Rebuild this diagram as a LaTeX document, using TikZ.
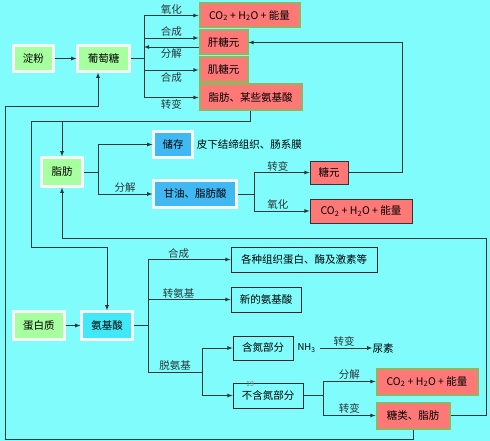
\documentclass[tikz,border=0pt]{standalone}
\usepackage{fontspec}
\setmainfont{Noto Sans CJK SC}
\usetikzlibrary{arrows,positioning,calc,shadows}

\definecolor{bgcyan}{RGB}{128,252,252}
\definecolor{redfill}{RGB}{255,120,120}
\definecolor{olivebd}{RGB}{153,178,96}
\definecolor{greenfill}{RGB}{168,255,160}
\definecolor{bluefill}{RGB}{64,184,244}
\definecolor{aminofill}{RGB}{64,232,248}
\definecolor{linecol}{RGB}{40,56,56}

\newcommand{\energytext}{{\fontsize{10.5}{12}\selectfont CO\textsubscript{2} + H\textsubscript{2}O + 能量}}

\begin{document}
\begin{tikzpicture}[x=1pt, y=-1pt,
        every node/.style={font=\fontsize{10.5}{12}\selectfont, inner sep=0pt},
        basebox/.style={minimum height=26pt, align=center},
        greenbox/.style={basebox, fill=greenfill, draw=white!93!gray, line width=2.2pt, drop shadow={shadow xshift=1.3pt, shadow yshift=-1.3pt, fill=gray!60}},
        bluebox/.style={greenbox, fill=bluefill},
        aminobox/.style={greenbox, fill=aminofill},
        redbox/.style={basebox, fill=redfill, draw=olivebd, line width=2pt},
        redline/.style={basebox, fill=redfill, draw=black!80, line width=0.8pt},
        plainbox/.style={basebox, draw=black!85, line width=0.8pt},
        link/.style={draw, linecol, line width=0.8pt},
        arrow/.style={link, ->, >=latex}
    ]
        % Background
        \useasboundingbox (0,0) rectangle (490,441);
        \fill[bgcyan] (0,0) rectangle (490,441);

        % Sugar part
        \node[greenbox, minimum width=40pt] (dianfen) at (33.5,58.5) {淀粉};
        \node[greenbox, minimum width=52pt] (ptt) at (103.5,58.5) {葡萄糖};
        \node[redbox, minimum width=100pt, minimum height=24pt] (co2a) at (249.5,15.5) {\energytext};
        \node[redbox, minimum width=48pt, minimum height=24pt] (gty) at (223.5,42.5) {肝糖元};
        \node[redbox, minimum width=48pt, minimum height=25pt] (jty) at (223.5,70) {肌糖元};
        \node[redbox, minimum width=102pt, minimum height=26pt] (zfa) at (250.5,97.5) {脂肪、某些氨基酸};

        \coordinate (gbus) at (144,58.5);
        \coordinate (gtop) at (144,15.5);
        \coordinate (gbot) at (144,97.5);
        \draw[arrow] (dianfen) -- (ptt);
        \draw[link] (ptt.east) -- (gbus);
        \draw[link] (gtop) -- (gbot);
        \draw[arrow] (gtop) -- (co2a.west) node[midway, above=1pt] {氧化};
        \draw[arrow] (gtop |- 0,38) -- (gty.west |- 0,38) node[midway, above=1pt] {合成};
        \draw[arrow] (gty.west |- 0,47) -- (gtop |- 0,47) node[midway, below=1pt] {分解};
        \draw[arrow] (gtop |- jty.west) -- (jty.west) node[midway, below=2pt] {合成};
        \draw[arrow] (gbot) -- (zfa.west) node[midway, below=2pt] {转变};

        % Fat part
        \node[greenbox, minimum width=41pt, minimum height=29pt] (zf) at (62,172) {脂肪};
        \node[bluebox, minimum width=39pt] (cc) at (173,144.5) {储存};
        \node[right=3pt of cc] (note) {皮下结缔组织、肠系膜};
        \node[bluebox, minimum width=83pt, minimum height=27pt] (gy) at (195,194) {甘油、脂肪酸};
        \node[redline, minimum width=38pt, minimum height=23pt] (ty) at (329,172.5) {糖元};
        \node[redline, minimum width=102pt, minimum height=24pt] (co2b) at (361,211) {\energytext};

        \coordinate (fbus) at (98,172);
        \draw[link] (zf.east) -- (fbus);
        \draw[link] (fbus |- cc.west) -- (fbus |- gy.west);
        \draw[arrow] (fbus |- cc.west) -- (cc.west);
        \draw[arrow] (fbus |- gy.west) -- (gy.west) node[midway, above=1pt] {分解};

        \coordinate (ybus) at (254,194);
        \draw[link] (gy.east) -- (ybus);
        \draw[link] (ybus |- ty.west) -- (ybus |- co2b.west);
        \draw[arrow] (ybus |- ty.west) -- (ty.west) node[pos=0.43, above=1pt] {转变};
        \draw[arrow] (ybus |- co2b.west) -- (co2b.west) node[pos=0.43, above=1pt] {氧化};

        \coordinate (rbus) at (402,172.5);
        \draw[arrow] (ty.east) -- (rbus) |- (gty.east);

        % Protein part
        \node[greenbox, minimum width=51pt, minimum height=28pt] (dbz) at (39,325.5) {蛋白质};
        \node[aminobox, minimum width=51pt, minimum height=28pt] (ajs) at (107,325.5) {氨基酸};
        \node[plainbox, minimum width=146pt, minimum height=25pt] (zzdb) at (304,259.5) {各种组织蛋白、酶及激素等};
        \node[plainbox, minimum width=70pt, minimum height=25pt] (xajs) at (266,299.5) {新的氨基酸};
        \node[plainbox, minimum width=60pt, minimum height=24pt] (hdb) at (263,348) {含氮部分};
        \node[plainbox, minimum width=70pt, minimum height=25pt] (bhd) at (268,395.5) {不含氮部分};
        \node[right=4pt of hdb, font=\fontsize{9.5}{11}\selectfont] (nh3) {NH\textsubscript{3}};
        \node (ns) at (383,348) {尿素};
        \node[font=\fontsize{7}{8}\selectfont, text=gray] (pg) at (250,384) {19};
        \node[redbox, minimum width=101pt, minimum height=26pt] (co2c) at (427,381.5) {\energytext};
        \node[redbox, minimum width=73pt, minimum height=26pt] (tl) at (413,415.5) {糖类、脂肪};

        \draw[arrow] (dbz) -- (ajs);
        \coordinate (abus) at (148,325.5);
        \coordinate (dbus) at (202,372);
        \draw[link] (ajs.east) -- (abus);
        \draw[link] (abus |- zzdb.west) -- (abus |- dbus) -- (dbus) node[midway, above=1pt] {脱氨基};
        \draw[arrow] (abus |- zzdb.west) -- (zzdb.west) node[pos=0.37, above=1pt] {合成};
        \draw[arrow] (abus |- xajs.west) -- (xajs.west) node[pos=0.37, above=1pt] {转氨基};
        \draw[link] (dbus |- hdb.west) -- (dbus |- bhd.west);
        \draw[arrow] (dbus |- hdb.west) -- (hdb.west);
        \draw[arrow] (dbus |- bhd.west) -- (bhd.west);
        \draw[arrow, shorten <=4pt] (nh3) -- (ns) node[midway, above=1pt] {转变};

        \coordinate (nbus) at (323,395.5);
        \draw[link] (bhd.east) -- (nbus);
        \draw[link] (nbus |- co2c.west) -- (nbus |- tl.west);
        \draw[arrow] (nbus |- co2c.west) -- (co2c.west) node[midway, above=2pt] {分解};
        \draw[arrow] (nbus |- tl.west) -- (tl.west) node[midway, above=2pt] {转变};

        % Feedback lines
        \coordinate (zl) at (31,121);
        \coordinate (zlow) at (31,247);
        \draw[arrow] (zfa.south) |- (zl) -- (zlow) -| (ajs.north);
        \draw[arrow] (zf.north |- zl) -- (zf.north);

        \coordinate (rr) at (486,238);
        \draw[arrow] (tl.east) -| (rr) -| (zf.south);

        \coordinate (bl) at (5,439);
        \coordinate (bu) at (5,106);
        \draw[arrow] (tl.south) |- (bl) -- (bu) -| ([xshift=-5.5pt]ptt.south);
    \end{tikzpicture}
\end{document}
